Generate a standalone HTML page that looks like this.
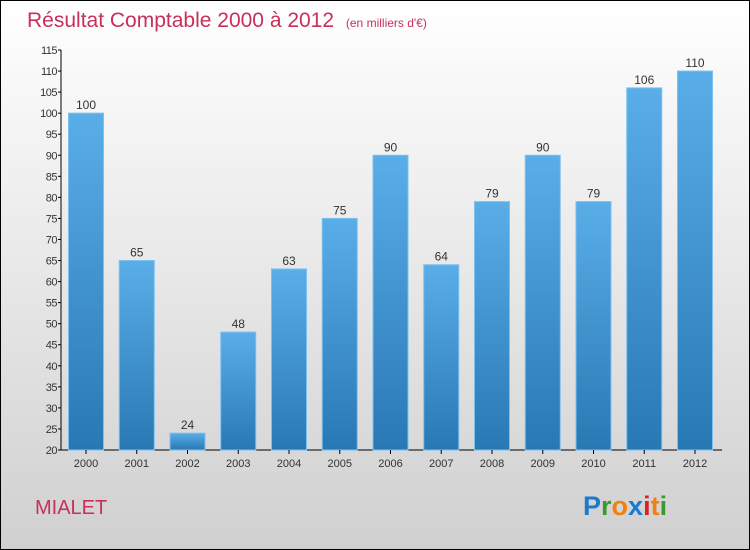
<!DOCTYPE html>
<html><head><meta charset="utf-8"><style>
body{margin:0}
#wrap{width:748px;height:548px;border:1px solid #000;background:linear-gradient(#fff,#d0d0d0);position:relative;overflow:hidden;font-family:"Liberation Sans",sans-serif}
</style></head><body>
<div id="wrap">
<svg width="748" height="548" id="svg">
<defs><linearGradient id="bg" x1="0" y1="0" x2="0" y2="1"><stop offset="0" stop-color="#5aaee8"/><stop offset="1" stop-color="#2878b4"/></linearGradient></defs>
<text x="26" y="26" font-size="21" fill="#c8305a">Résultat Comptable 2000 à 2012 <tspan font-size="12" dx="6">(en milliers d'€)</tspan></text>
<text x="34" y="513" font-size="20" fill="#c8305a">MIALET</text>
<text x="582" y="514" font-size="27" font-weight="bold"><tspan fill="#1a7ad0">P</tspan><tspan fill="#3a9a30">r</tspan><tspan fill="#f08010">o</tspan><tspan fill="#1a7ad0">x</tspan><tspan fill="#e02020">i</tspan><tspan fill="#f08010">t</tspan><tspan fill="#3a9a30">i</tspan></text>
<g id="g"></g>
</svg></div>
<script>
const categories=["2000","2001","2002","2003","2004","2005","2006","2007","2008","2009","2010","2011","2012"];
const values=[100,65,24,48,63,75,90,64,79,90,79,106,110];
const ticks=[20,25,30,35,40,45,50,55,60,65,70,75,80,85,90,95,100,105,110,115];
const NS="http://www.w3.org/2000/svg",g=document.getElementById('g');
const y=v=>449-(v-20)*(400/95);
const x=i=>85+i*50.75;
function mk(t,a){const e=document.createElementNS(NS,t);for(const k in a)e.setAttribute(k,a[k]);g.appendChild(e);return e;}
let ax=mk('line',{x1:60,y1:49,x2:60,y2:449,stroke:'#000'});


let bx=mk('line',{x1:60,y1:449,x2:721,y2:449,stroke:'#000'});


ticks.forEach(t=>{
 let l=mk('line',{x1:57,x2:60,y1:y(t),y2:y(t),stroke:'#000'});
 
 
 let tx=mk('text',{x:56,y:y(t)+4,'font-size':11,'text-anchor':'end',fill:'#333','letter-spacing':'-0.5'});
 tx.textContent=t;
 
 
});
categories.forEach((c,i)=>{
 const v=values[i];
 let r=mk('rect',{x:x(i)-17.5,y:y(v),width:35,height:449-y(v),fill:'url(#bg)',stroke:'#7cc0f0','stroke-width':1});
 
 
 let vl=mk('text',{x:x(i),y:y(v)-4,'font-size':12,'text-anchor':'middle',fill:'#333'});
 vl.textContent=v;
 
 
 let tk=mk('line',{x1:x(i),x2:x(i),y1:449,y2:453,stroke:'#000'});
 
 
 let cl=mk('text',{x:x(i),y:466,'font-size':11,'text-anchor':'middle',fill:'#333'});
 cl.textContent=c;
 
 
});
</script>
</body></html>
